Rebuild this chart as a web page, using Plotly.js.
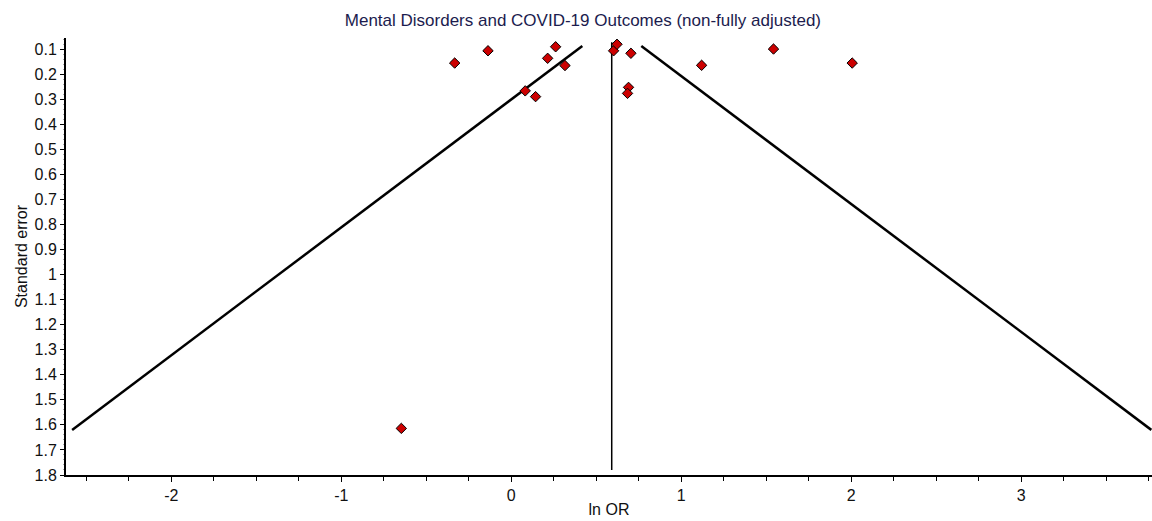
<!DOCTYPE html>
<html>
<head>
<meta charset="utf-8">
<script src="https://cdn.plot.ly/plotly-3.0.1.min.js"></script>
<style>html,body{margin:0;padding:0;background:#fff;}#chart{width:1152px;height:521px;}</style>
</head>
<body>
<div id="chart"></div>
<script>
// Study points: ln OR and standard error
const lnOR = [-0.333, -0.137, 0.261, 0.214, 0.316, 0.082, 0.143, 0.602, 0.622, 0.704, 0.690, 0.684, 1.120, 1.543, 2.006, -0.647];
const stdErr = [0.156, 0.107, 0.091, 0.137, 0.166, 0.267, 0.290, 0.107, 0.081, 0.117, 0.253, 0.277, 0.165, 0.100, 0.156, 1.614];

// Pooled estimate (vertical line)
const pooledX = [0.591, 0.591];
const pooledSE = [0.073, 1.78];

// Funnel limits (pseudo 95% CI)
const funnelSE = [0.088, 1.62];
const funnelLeft = [0.418, -2.584];
const funnelRight = [0.765, 3.766];

// Axis ticks
const yTicks = [0.1,0.2,0.3,0.4,0.5,0.6,0.7,0.8,0.9,1,1.1,1.2,1.3,1.4,1.5,1.6,1.7,1.8];
const yTickText = ["0.1","0.2","0.3","0.4","0.5","0.6","0.7","0.8","0.9","1","1.1","1.2","1.3","1.4","1.5","1.6","1.7","1.8"];
const xTicks = [-2,-1,0,1,2,3];
const xTickText = ["-2","-1","0","1","2","3"];

const traces = [
  {x: funnelLeft, y: funnelSE, mode: 'lines', line: {color: '#000', width: 2.5}, hoverinfo: 'skip'},
  {x: funnelRight, y: funnelSE, mode: 'lines', line: {color: '#000', width: 2.5}, hoverinfo: 'skip'},
  {x: pooledX, y: pooledSE, mode: 'lines', line: {color: '#000', width: 1.5}, hoverinfo: 'skip'},
  {x: lnOR, y: stdErr, mode: 'markers', marker: {symbol: 'diamond', size: 8, color: '#cc0000', line: {color: '#000', width: 1}}}
];

const layout = {
  width: 1152, height: 521,
  margin: {l: 66, r: 0, t: 38, b: 46},
  paper_bgcolor: '#fff', plot_bgcolor: '#fff',
  showlegend: false,
  font: {family: 'Liberation Sans, Arial, sans-serif', size: 16, color: '#111'},
  title: {text: 'Mental Disorders and COVID-19 Outcomes (non-fully adjusted)', font: {size: 17, color: '#1c1c4e'},
          xref: 'container', x: 0.506, xanchor: 'center', yref: 'container', y: 0.962, yanchor: 'middle'},
  xaxis: {
    range: [-2.62, 3.77], tickvals: xTicks, ticktext: xTickText, ticks: 'outside', ticklen: 5, tickwidth: 1, tickcolor: '#000',
    showline: true, linecolor: '#000', linewidth: 2, showgrid: false, zeroline: false,
    minor: {dtick: 0.25, ticks: 'outside', ticklen: 4, tickcolor: '#000', showgrid: false},
    title: {text: 'ln OR', font: {size: 16, color: '#111'}, standoff: 1},
    tickfont: {size: 16, color: '#111'}
  },
  yaxis: {
    range: [1.8, 0.056], tickvals: yTicks, ticktext: yTickText, ticks: 'outside', ticklen: 4, tickwidth: 1, tickcolor: '#000',
    showline: true, linecolor: '#000', linewidth: 2, showgrid: false, zeroline: false,
    minor: {dtick: 0.02, ticks: 'outside', ticklen: 1, tickcolor: '#aaa', showgrid: false},
    title: {text: 'Standard error', font: {size: 16, color: '#111'}, standoff: 3},
    tickfont: {size: 16, color: '#111'}
  }
};

Plotly.newPlot('chart', traces, layout, {displayModeBar: false, staticPlot: true});
</script>
</body>
</html>
